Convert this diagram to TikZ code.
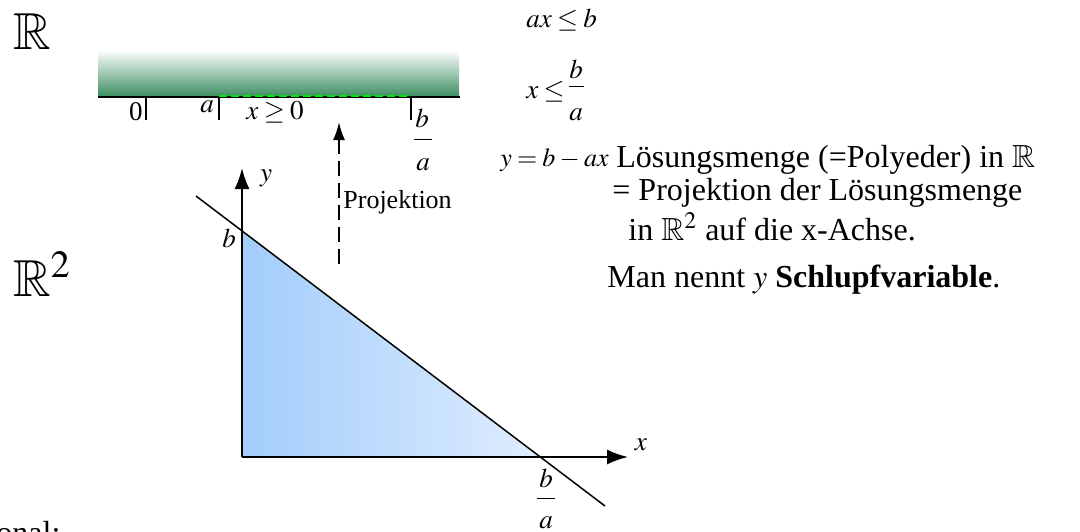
\documentclass[tikz,border=0pt]{standalone}
\usepackage{amssymb}
\usepackage{mathptmx}
\usepackage{fontspec}
\setmainfont{Liberation Serif}
\usetikzlibrary{arrows.meta}
\definecolor{barGreen}{RGB}{58,141,96}
\definecolor{solGreen}{RGB}{0,235,0}
\definecolor{triDark}{RGB}{162,205,250}
\definecolor{triLight}{RGB}{224,237,254}
\thickmuskip=3.5mu
\medmuskip=3mu

\begin{document}
\begin{tikzpicture}[x=0.5pt, y=-0.5pt,
    txt/.style={font=\fontsize{16}{18}\selectfont, inner sep=0pt},
    lbl/.style={font=\fontsize{13.5}{15}\selectfont, inner sep=0pt},
    bigset/.style={font=\fontsize{26}{26}\selectfont, inner sep=0pt},
    axisarr/.style={line width=1pt, -{Latex[length=10.5pt, width=7.5pt]}},
    projarr/.style={line width=1pt, dash pattern=on 7.5pt off 3.5pt, -{Latex[length=9pt, width=6pt]}},
    tickmark/.style={line width=1pt},
    soldash/.style={line width=1pt, solGreen, dash pattern=on 4pt off 2pt},
    fracbar/.style={line width=0.5pt}]
  \useasboundingbox (0,0) rectangle (1080,531);
  %--- Number line R
  \node[bigset] (R1) at (32,32) {$\mathbb{R}$};
  \shade[top color=white, bottom color=barGreen] (98,50) rectangle (459,97);
  \coordinate (L0) at (98,97);
  \coordinate (L1) at (460,97);
  \draw[line width=0.75pt] (L0) -- (L1);
  %--- Ticks at 0, a, b/a
  \foreach \tx/\tn in {146/T0, 219/Ta, 411/Tb} {
    \coordinate (\tn) at (\tx,97);
    \coordinate (\tn e) at (\tx,120);
    \draw[tickmark] (\tn) -- (\tn e);
  }
  \draw[soldash] (219,96) -- (411,96);
  \node[lbl, anchor=east] (zero) at (143,112) {0};
  \node[lbl] (aTick) at (207,107) {$a$};
  \node[lbl] (xgeq) at (275,112) {$x \geq 0$};
  \node[lbl] (bTop) at (422,118) {$b$};
  \draw[fracbar] (414,139) -- (432,139);
  \node[lbl] (aTop) at (423,165) {$a$};
  %--- Projection arrow
  \coordinate (P0) at (339,264);
  \coordinate (P1) at (339,122);
  \draw[projarr] (P0) -- (P1);
  \node[lbl, anchor=west, font=\fontsize{13}{15}\selectfont] (projlbl) at (343,202) {Projektion};
  %--- R^2: axes and region
  \node[bigset] (R2) at (42,274) {$\mathbb{R}^2$};
  \coordinate (O)    at (242,457);
  \coordinate (Ytip) at (242,168);
  \coordinate (Xtip) at (628,457);
  \coordinate (Yb)   at (242,231);  % y = b
  \coordinate (Xb)   at (540,457);  % x = b/a
  \coordinate (Ls)   at (196,196);
  \coordinate (Le)   at (605,506);
  \fill[left color=triDark, right color=triLight] (O) -- (Yb) -- (Xb) -- cycle;
  \draw[axisarr] (O) -- (Ytip);
  \draw[axisarr] (O) -- (Xtip);
  \draw[line width=0.75pt] (Ls) -- (Le);
  \node[lbl] (ylbl) at (266,178) {$y$};
  \node[lbl] (xlbl) at (641,445) {$x$};
  \node[lbl] (bAxis) at (229,238) {$b$};
  \node[lbl] (bLow) at (546,478) {$b$};
  \draw[fracbar] (537,498) -- (555,498);
  \node[lbl] (aLow) at (546,523) {$a$};
  %--- Right column
  \node[lbl, anchor=west] (ineq) at (526,20) {$ax \leq b$};
  \node[lbl, anchor=west] (xleq) at (526,92) {$x \leq$};
  \node[lbl] (bRight) at (576,69) {$b$};
  \draw[fracbar] (569,86) -- (584,86);
  \node[lbl] (aRight) at (576,115) {$a$};
  \node[lbl, anchor=west, font=\fontsize{13}{15}\selectfont] (slack) at (500,160) {$y = b - ax$};
  \node[txt, anchor=west] (sol1) at (616,160) {Lösungsmenge (=Polyeder) in $\mathbb{R}$};
  \node[txt, anchor=west] (sol2) at (612,193) {= Projektion der Lösungsmenge};
  \node[txt, anchor=west] (sol3) at (628,227) {in $\mathbb{R}^2$ auf die x-Achse.};
  \node[txt, anchor=west] (man) at (607,280) {Man nennt $y$ \textbf{Schlupfvariable}.};
  \node[txt, anchor=north west] (cut) at (-4,521) {onal:};
\end{tikzpicture}
\end{document}
